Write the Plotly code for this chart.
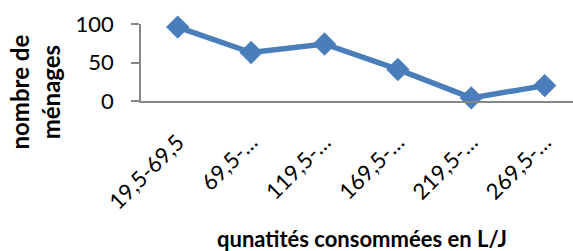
import plotly.graph_objects as go

categories = ["19,5-69,5", "69,5-119,5", "119,5-169,5", "169,5-219,5", "219,5-269,5", "269,5-319,5"]
tick_labels = ["19,5-69,5", "69,5-…", "119,5-…", "169,5-…", "219,5-…", "269,5-…"]
menages = [96, 63, 74, 41, 4, 20]
y_ticks = [0, 50, 100]

FONT = "Lato"
BLUE = "#4A7EBB"
AXIS = "#868686"

fig = go.Figure()
fig.add_trace(go.Scatter(
    x=categories, y=menages, mode="lines+markers",
    line=dict(color=BLUE, width=5.5),
    marker=dict(symbol="diamond", size=18, color=BLUE),
    cliponaxis=False, showlegend=False, hoverinfo="skip",
))

fig.update_layout(
    width=573, height=251,
    margin=dict(l=141, r=0, t=24, b=150, autoexpand=False),
    paper_bgcolor="white", plot_bgcolor="white",
    font=dict(family=FONT, color="black", size=22),
    xaxis=dict(
        type="category", range=[-0.5, 5.386], automargin=False,
        tickmode="array", tickvals=categories, ticktext=tick_labels,
        tickangle=-45, showgrid=False, zeroline=False,
        showline=True, linecolor=AXIS, linewidth=1.5,
        ticks="", tickfont=dict(size=22, family=FONT), ticklabelstandoff=18,
    ),
    yaxis=dict(
        range=[0, 100], tickmode="array", tickvals=y_ticks, automargin=False,
        showgrid=False, zeroline=False,
        showline=True, linecolor=AXIS, linewidth=1.5,
        ticks="outside", ticklen=8, tickcolor=AXIS, tickwidth=1.5,
        tickfont=dict(size=22, family=FONT), ticklabelstandoff=13,
    ),
    annotations=[
        dict(text="<b>nombre de<br>ménages</b>", textangle=-90,
             xref="paper", yref="paper", x=-0.245, y=0.113,
             xanchor="center", yanchor="middle", showarrow=False,
             font=dict(size=24, family=FONT)),
        dict(text="<b>qunatités consommées en L/J</b>",
             xref="paper", yref="paper", x=0.512, y=-1.79,
             xanchor="center", yanchor="middle", showarrow=False,
             font=dict(size=22, family=FONT)),
    ],
)

fig.write_html("out.html", config={"displayModeBar": False},
               post_script="document.body.style.margin='0px';document.body.style.overflow='hidden';")
